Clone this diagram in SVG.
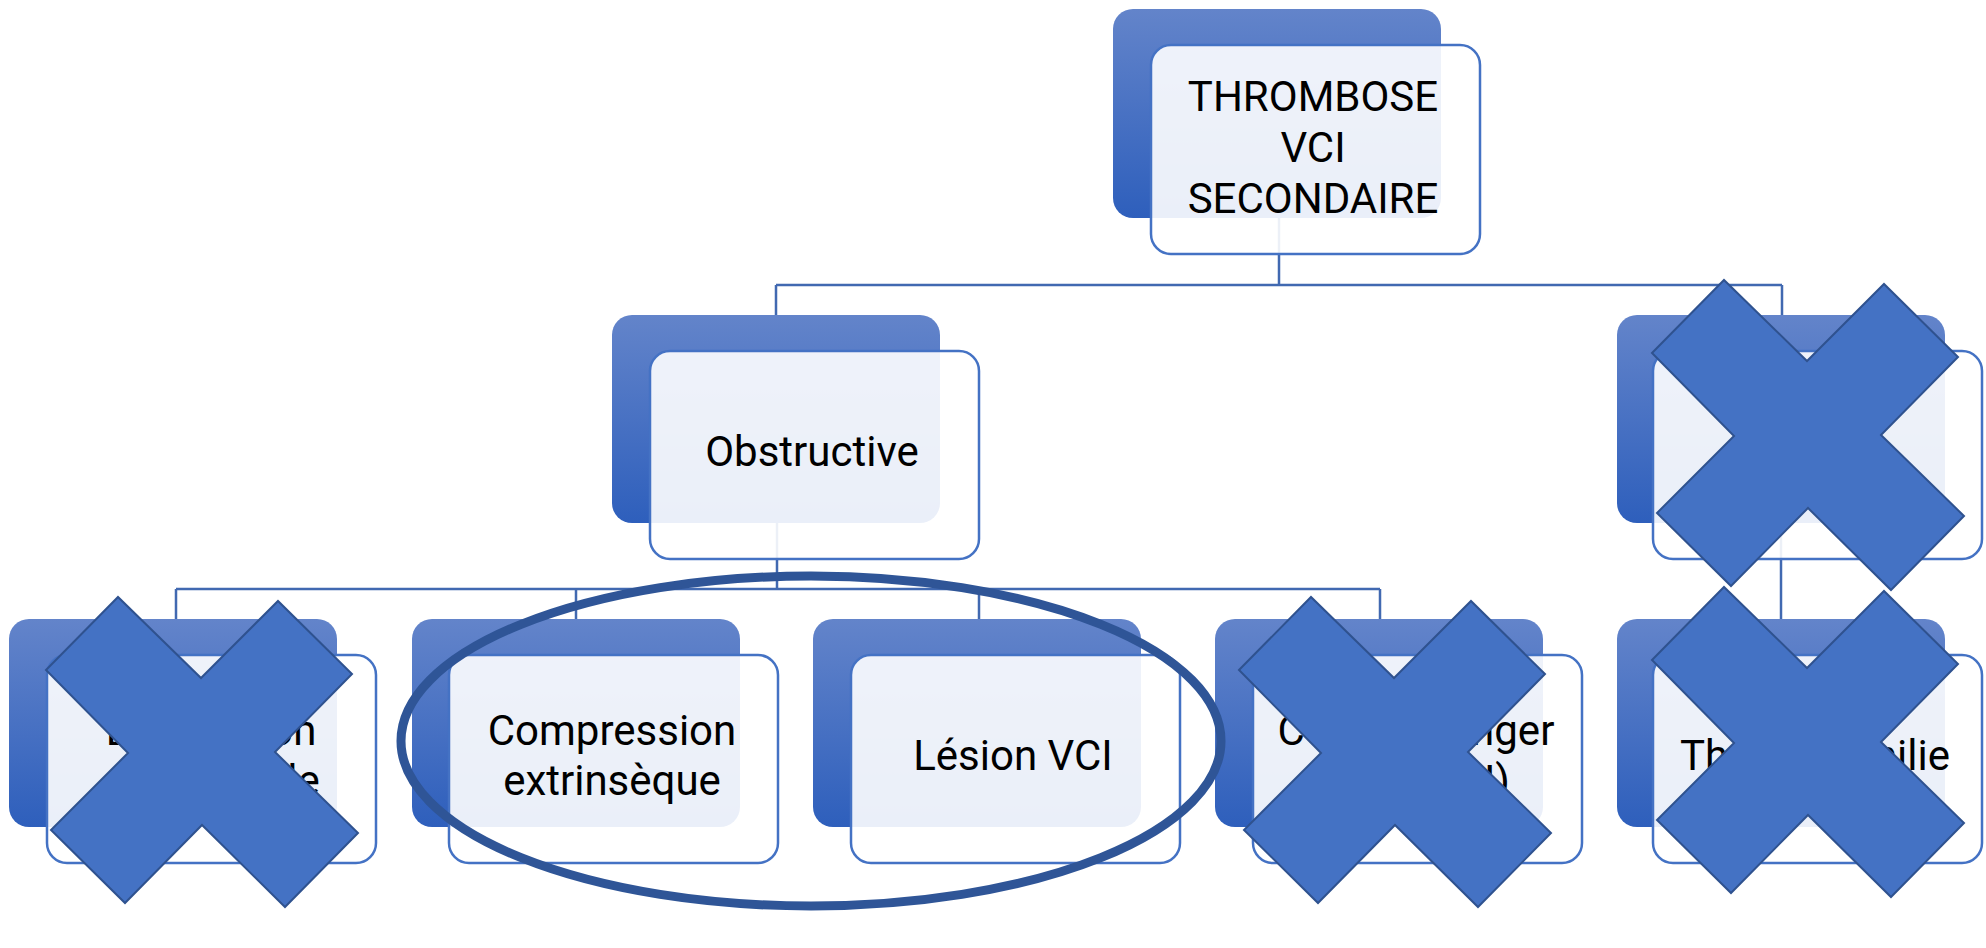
<svg xmlns="http://www.w3.org/2000/svg" xmlns:xlink="http://www.w3.org/1999/xlink" width="1986" height="948" viewBox="0 0 1986 948">
<defs>
<linearGradient id="backGrad" x1="0" y1="0" x2="0" y2="1">
<stop offset="0" stop-color="#6384CA"/>
<stop offset="1" stop-color="#2E5FBC"/>
</linearGradient>
<polygon id="cross" points="-156,-82 -84,-155 -1,-74 76,-151 150,-78 73,0 156,81 83,155 0,73 -77,151 -151,78 -74,1"/>
<style>
.back{fill:url(#backGrad);}
.front{fill:#FFFFFF;fill-opacity:0.9;stroke:#4472C4;stroke-width:2.5;}
.lbl{font-family:Roboto,"Open Sans","Liberation Sans",sans-serif;font-size:42px;fill:#000000;text-anchor:middle;}
.conn{fill:none;stroke:#4169B1;stroke-width:2.5;}
.xmark{fill:#4472C4;stroke:#2F528F;stroke-width:2;stroke-linejoin:miter;}
.ring{fill:none;stroke:#2F5597;stroke-width:9;}
</style>
</defs>
<rect width="1986" height="948" fill="#FFFFFF"/>
<g id="connectors">
<path class="conn" d="M1279,218 V285 M776,285 H1782 M776,285 V315 M1782,285 V315"/>
<path class="conn" d="M777,523 V589 M176,589 H1380 M176,589 V619 M576,589 V619 M979,589 V619 M1380,589 V619"/>
<path class="conn" d="M1781,523 V619"/>
</g>
<g id="node-thrombose">
<rect class="back" x="1113" y="9" width="328" height="209" rx="20"/>
<rect class="front" x="1151" y="45" width="329" height="209" rx="20"/>
<text class="lbl" x="1313" y="111">THROMBOSE<tspan x="1313" dy="51">VCI</tspan><tspan x="1313" dy="51">SECONDAIRE</tspan></text>
</g>
<g id="node-obstructive">
<rect class="back" x="612" y="315" width="328" height="208" rx="20"/>
<rect class="front" x="650" y="351" width="329" height="208" rx="20"/>
<text class="lbl" x="812" y="466">Obstructive</text>
</g>
<g id="node-right">
<rect class="back" x="1617" y="315" width="328" height="208" rx="20"/>
<rect class="front" x="1653" y="351" width="329" height="208" rx="20"/>
</g>
<g id="node-1">
<rect class="back" x="9" y="619" width="328" height="208" rx="20"/>
<rect class="front" x="47" y="655" width="329" height="208" rx="20"/>
<text class="lbl" x="211" y="745">Duplication<tspan x="211" dy="50">congénitale</tspan></text>
</g>
<g id="node-compression">
<rect class="back" x="412" y="619" width="328" height="208" rx="20"/>
<rect class="front" x="449" y="655" width="329" height="208" rx="20"/>
<text class="lbl" x="612" y="745">Compression<tspan x="612" dy="50">extrinsèque</tspan></text>
</g>
<g id="node-lesion">
<rect class="back" x="813" y="619" width="328" height="208" rx="20"/>
<rect class="front" x="851" y="655" width="329" height="208" rx="20"/>
<text class="lbl" x="1013" y="770">Lésion VCI</text>
</g>
<g id="node-corps">
<rect class="back" x="1215" y="619" width="328" height="208" rx="20"/>
<rect class="front" x="1253" y="655" width="329" height="208" rx="20"/>
<text class="lbl" x="1416" y="745">Corps étranger<tspan x="1416" dy="50">(filtre VCI)</tspan></text>
</g>
<g id="node-thrombophilie">
<rect class="back" x="1617" y="619" width="328" height="208" rx="20"/>
<rect class="front" x="1653" y="655" width="329" height="208" rx="20"/>
<text class="lbl" x="1815" y="770">Thrombophilie</text>
</g>
<g id="crosses">
<use xlink:href="#cross" href="#cross" class="xmark" x="202" y="752"/>
<use xlink:href="#cross" href="#cross" class="xmark" x="1395" y="752"/>
<use xlink:href="#cross" href="#cross" class="xmark" x="1808" y="435"/>
<use xlink:href="#cross" href="#cross" class="xmark" x="1808" y="742"/>
</g>
<ellipse id="highlight" class="ring" cx="811" cy="741" rx="410" ry="165"/>
</svg>
